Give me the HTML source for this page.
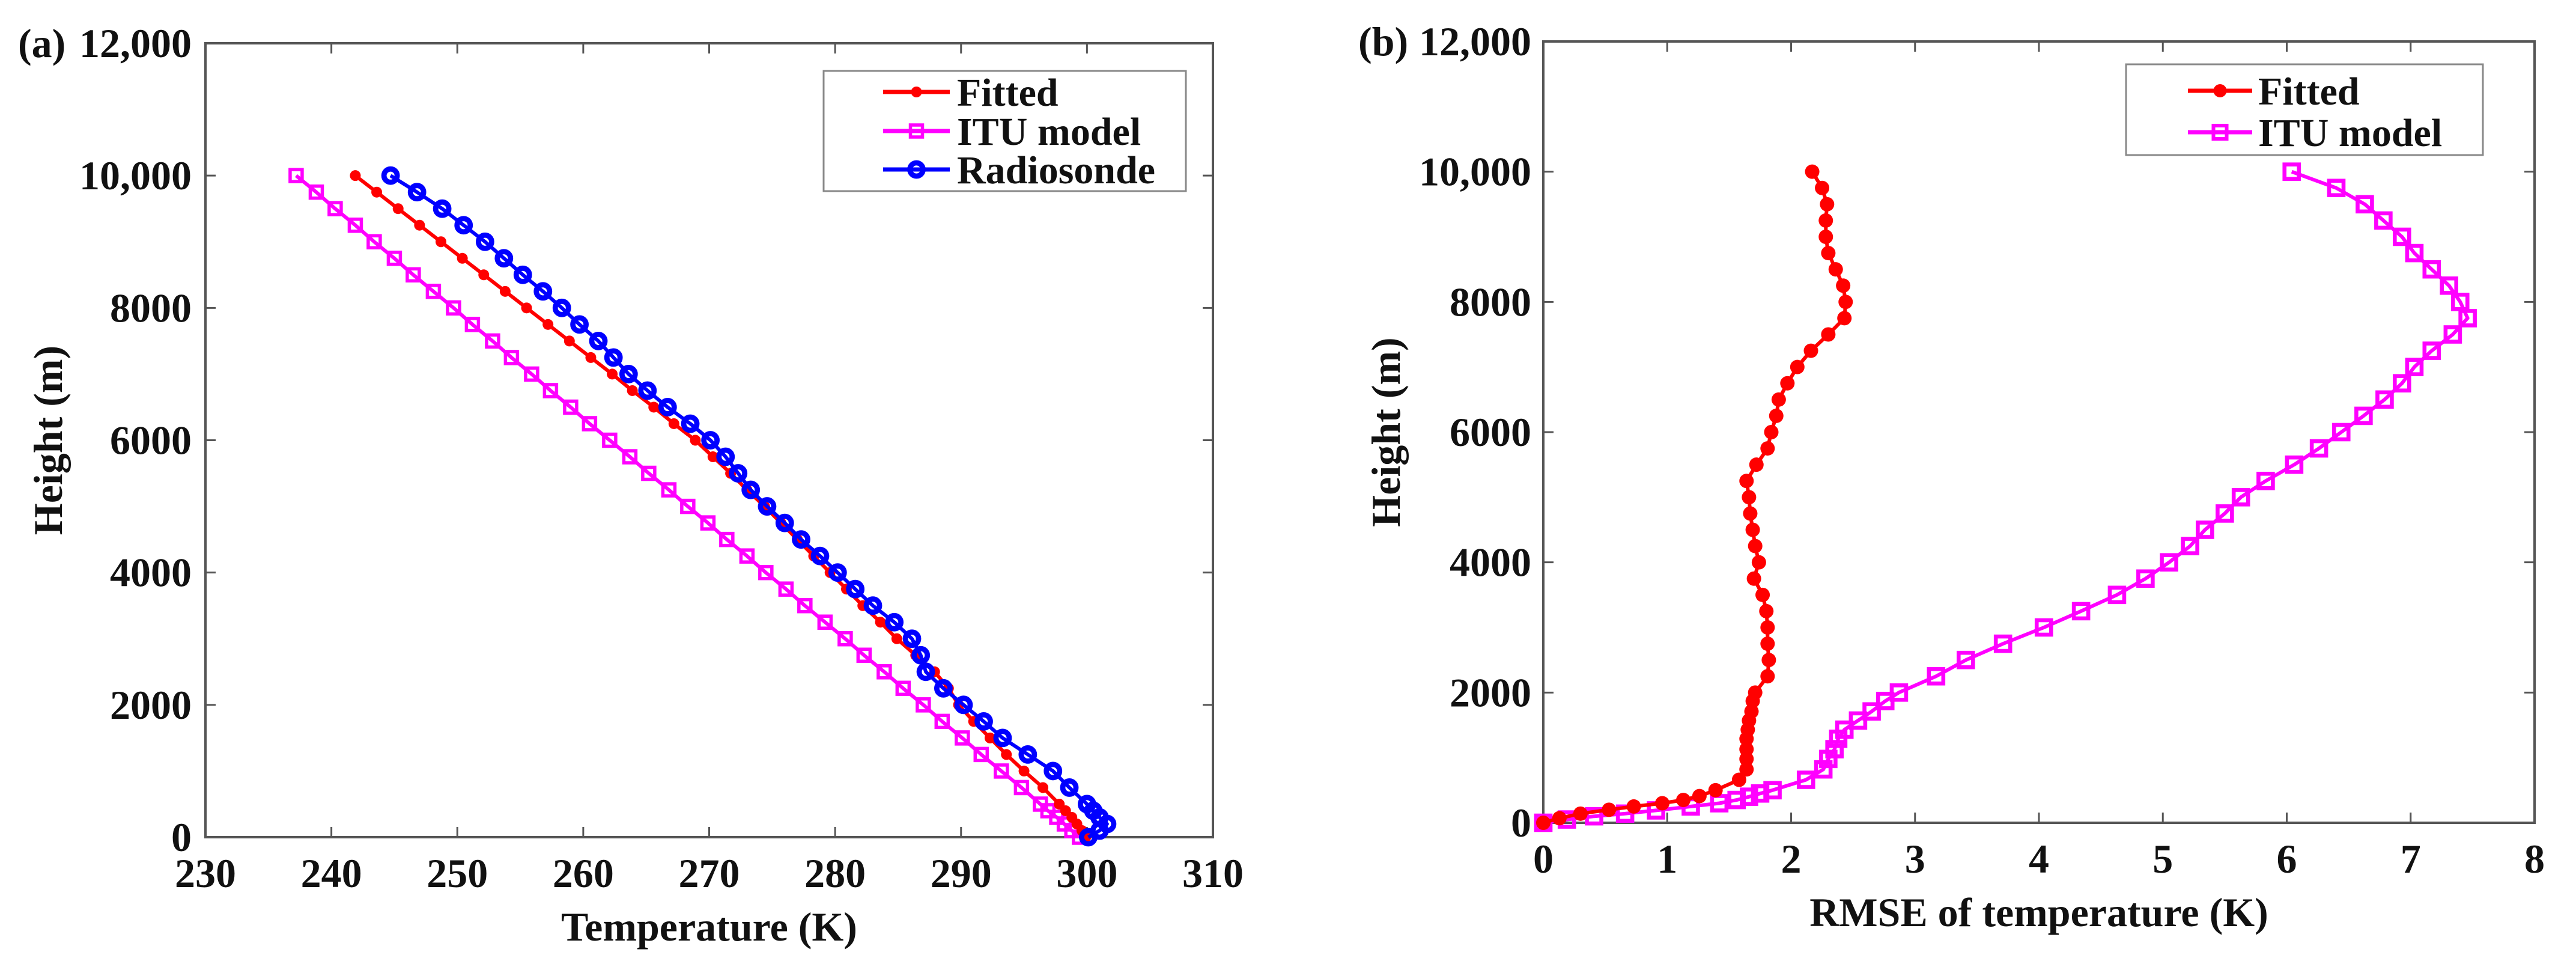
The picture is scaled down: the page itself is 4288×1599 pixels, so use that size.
<!DOCTYPE html>
<html><head><meta charset="utf-8"><style>
html,body{margin:0;padding:0;background:#fff;}
svg{display:block;}
text{font-family:"Liberation Serif",serif;font-weight:bold;fill:#111;}
</style></head><body>
<svg id="chart" width="4288" height="1599" viewBox="0 0 4288 1599" xmlns="http://www.w3.org/2000/svg">
<rect width="4288" height="1599" fill="#fff"/>
<g id="pa"></g>
<g id="pb"></g>
</svg>
<script>
// ---- Panel (a) data ----
const aHeights = [10000,9750,9500,9250,9000,8750,8500,8250,8000,7750,7500,7250,7000,6750,6500,6250,6000,5750,5500,5250,5000,4750,4500,4250,4000,3750,3500,3250,3000,2750,2500,2250,2000,1750,1500,1250,1000,750,500,400,300,200,100,0];
const aFitted = [241.9,243.6,245.3,247.0,248.7,250.4,252.1,253.8,255.5,257.2,258.9,260.6,262.3,263.9,265.6,267.2,268.9,270.3,271.7,273.0,274.4,275.7,277.0,278.3,279.6,280.9,282.2,283.6,284.9,286.4,287.9,289.0,289.8,291.0,292.3,293.6,295.0,296.5,297.8,298.3,298.8,299.2,299.6,299.9];
const aITU = [237.2,238.8,240.3,241.9,243.4,245.0,246.5,248.1,249.7,251.2,252.8,254.3,255.9,257.4,259.0,260.5,262.1,263.7,265.2,266.8,268.3,269.9,271.4,273.0,274.5,276.1,277.6,279.2,280.8,282.3,283.9,285.4,287.0,288.5,290.1,291.6,293.2,294.8,296.3,296.9,297.6,298.2,298.8,299.4];
const aRadio = [244.7,246.8,248.8,250.5,252.2,253.7,255.2,256.8,258.3,259.7,261.2,262.4,263.6,265.1,266.7,268.5,270.1,271.3,272.3,273.3,274.6,276.0,277.3,278.8,280.2,281.6,283.0,284.7,286.1,286.8,287.2,288.6,290.2,291.8,293.3,295.3,297.3,298.6,300.0,300.5,301.0,301.6,301.0,300.1];
const aXTicks = [230,240,250,260,270,280,290,300,310];
const aYTicks = [0,2000,4000,6000,8000,10000,12000];
const aYLabels = ["0","2000","4000","6000","8000","10,000","12,000"];
// ---- Panel (b) data ----
const bITUHeights = [10000,9750,9500,9250,9000,8750,8500,8250,8000,7750,7500,7250,7000,6750,6500,6250,6000,5750,5500,5250,5000,4750,4500,4250,4000,3750,3500,3250,3000,2750,2500,2250,2000,1870,1710,1570,1430,1290,1130,980,820,660,500,450,400,350,300,250,190,140,100,50,0];
const bITU = [6.04,6.40,6.63,6.78,6.93,7.03,7.17,7.31,7.40,7.46,7.34,7.17,7.03,6.93,6.79,6.62,6.44,6.26,6.06,5.83,5.63,5.50,5.34,5.22,5.05,4.86,4.63,4.34,4.04,3.71,3.41,3.17,2.87,2.76,2.65,2.54,2.43,2.38,2.35,2.30,2.26,2.12,1.85,1.75,1.66,1.56,1.42,1.19,0.91,0.66,0.41,0.19,0];
const bFitHeights = [10000,9750,9500,9250,9000,8750,8500,8250,8000,7750,7500,7250,7000,6750,6500,6250,6000,5750,5500,5250,5000,4750,4500,4250,4000,3750,3500,3250,3000,2750,2500,2250,2000,1870,1710,1570,1430,1290,1130,980,820,660,500,410,350,300,250,200,140,70,0];
const bFitted = [2.17,2.25,2.29,2.28,2.28,2.30,2.36,2.42,2.44,2.43,2.30,2.16,2.05,1.97,1.90,1.88,1.84,1.81,1.72,1.64,1.66,1.67,1.69,1.71,1.74,1.70,1.77,1.80,1.81,1.81,1.82,1.81,1.71,1.69,1.68,1.66,1.65,1.64,1.64,1.64,1.64,1.58,1.39,1.26,1.13,0.96,0.73,0.53,0.30,0.13,0];
const bXTicks = [0,1,2,3,4,5,6,7,8];
const bYTicks = [0,2000,4000,6000,8000,10000,12000];
const bYLabels = ["0","2000","4000","6000","8000","10,000","12,000"];

const NS = "http://www.w3.org/2000/svg";
function mk(parent, tag, attrs){
  const e = document.createElementNS(NS, tag);
  for (const k in attrs) e.setAttribute(k, attrs[k]);
  parent.appendChild(e); return e;
}
function scale(d0,d1,r0,r1){ return v => r0 + (v-d0)/(d1-d0)*(r1-r0); }

function drawMarker(g, kind, cx, cy, color, size){
  let m;
  if (kind === 'dot') {
    m = mk(g,'circle',{cx:cx,cy:cy,r:size,fill:color});
  } else if (kind === 'ring') {
    m = mk(g,'circle',{cx:cx,cy:cy,r:size,fill:'none',stroke:color,'stroke-width':size*0.8});
  } else {
    m = mk(g,'rect',{x:cx-size,y:cy-size,width:2*size,height:2*size,fill:'none',stroke:color,'stroke-width':size*0.55});
  }
  
  
}

function drawSeries(g, xs, ys, X, Y, color, kind, msize, name){
  const sg = mk(g,'g',{});
  
  
  const pts = xs.map((v,i)=>X(v).toFixed(1)+','+Y(ys[i]).toFixed(1)).join(' ');
  const pl = mk(sg,'polyline',{points:pts,fill:'none',stroke:color,'stroke-width':6,'stroke-linejoin':'round'});
  
  
  xs.forEach((v,i)=>drawMarker(sg, kind, X(v), Y(ys[i]), color, msize));
}

function drawAxes(g, L, R, T, B, X, Y, xt, yt, ylab, xTitle, panelLab, labX, yTitleX, fs, plText){
  const ax = mk(g,'rect',{x:L,y:T,width:R-L,height:B-T,fill:'none',stroke:'#555','stroke-width':4});
  
  
  const tl = 17;
  xt.forEach(v=>{
    const x = X(v);
    mk(g,'line',{x1:x,y1:B,x2:x,y2:B-tl,stroke:'#555','stroke-width':3});
    mk(g,'line',{x1:x,y1:T,x2:x,y2:T+tl,stroke:'#555','stroke-width':3});
    const t = mk(g,'text',{x:x,y:B+83,'text-anchor':'middle','font-size':fs});
    t.textContent = v;
    
    
  });
  yt.forEach((v,i)=>{
    const y = Y(v);
    mk(g,'line',{x1:L,y1:y,x2:L+tl,y2:y,stroke:'#555','stroke-width':3});
    mk(g,'line',{x1:R,y1:y,x2:R-tl,y2:y,stroke:'#555','stroke-width':3});
    const t = mk(g,'text',{x:labX,y:y+23,'text-anchor':'end','font-size':fs});
    t.textContent = ylab[i];
    
    
  });
  const xtt = mk(g,'text',{x:(L+R)/2,y:B+172,'text-anchor':'middle','font-size':fs});
  xtt.textContent = xTitle;
  
  
  const cy = (T+B)/2;
  const ytt = mk(g,'text',{x:yTitleX,y:cy,'text-anchor':'middle','font-size':fs,transform:'rotate(-90 '+yTitleX+' '+cy+')'});
  ytt.textContent = 'Height (m)';
  
  
  const pl = mk(g,'text',{x:panelLab,y:T+23,'font-size':fs});
  pl.textContent = plText;
  
  
}

function drawLegend(g, x, y, w, h, lx1, lx2, tx, rows, fs){
  const lg = mk(g,'g',{});
  
  
  mk(lg,'rect',{x:x,y:y,width:w,height:h,fill:'#fff',stroke:'#888','stroke-width':3});
  rows.forEach(r=>{
    const eg = mk(lg,'g',{});
    
    
    mk(eg,'line',{x1:lx1,y1:r.y,x2:lx2,y2:r.y,stroke:r.color,'stroke-width':7});
    drawMarker(eg, r.kind, (lx1+lx2)/2, r.y, r.color, r.ms);
    const t = mk(eg,'text',{x:tx,y:r.y+23,'font-size':fs});
    t.textContent = r.label;
  });
}

// Panel a
(function(){
  const g = document.getElementById('pa');
  const L=342,R=2019,T=72,B=1393;
  const X = scale(230,310,L,R), Y = scale(0,12000,B,T);
  drawAxes(g,L,R,T,B,X,Y,aXTicks,aYTicks,aYLabels,'Temperature (K)',30,319,103,68,'(a)');
  drawSeries(g,aITU,aHeights,X,Y,'#ff00ff','square',10,'itu-model-series');
  drawSeries(g,aFitted,aHeights,X,Y,'#ff0000','dot',9,'fitted-series');
  drawSeries(g,aRadio,aHeights,X,Y,'#0000ff','ring',11,'radiosonde-series');
  drawLegend(g,1371,118,603,200,1470,1581,1593,[
    {y:153,color:'#ff0000',kind:'dot',ms:9,label:'Fitted'},
    {y:218,color:'#ff00ff',kind:'square',ms:10,label:'ITU model'},
    {y:282,color:'#0000ff',kind:'ring',ms:11,label:'Radiosonde'}],66);
})();
// Panel b
(function(){
  const g = document.getElementById('pb');
  const L=2569,R=4219,T=69,B=1369;
  const X = scale(0,8,L,R), Y = scale(0,12000,B,T);
  drawAxes(g,L,R,T,B,X,Y,bXTicks,bYTicks,bYLabels,'RMSE of temperature (K)',2261,2549,2330,68,'(b)');
  drawSeries(g,bITU,bITUHeights,X,Y,'#ff00ff','square',12,'itu-model-rmse-series');
  drawSeries(g,bFitted,bFitHeights,X,Y,'#ff0000','dot',12,'fitted-rmse-series');
  drawLegend(g,3539,107,594,151,3642,3749,3759,[
    {y:151,color:'#ff0000',kind:'dot',ms:11,label:'Fitted'},
    {y:220,color:'#ff00ff',kind:'square',ms:11,label:'ITU model'}],66);
})();
</script>
</body></html>
